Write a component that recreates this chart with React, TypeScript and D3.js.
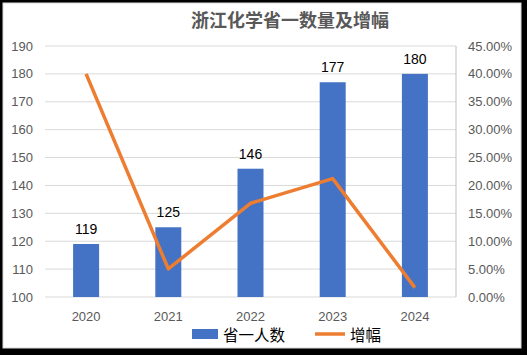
import React from "react";
import * as d3 from "d3";

const categories = ["2020", "2021", "2022", "2023", "2024"];
const counts = [119, 125, 146, 177, 180];
const growth = [0.40, 0.0504, 0.168, 0.2123, 0.0169];
const leftTicks = [100, 110, 120, 130, 140, 150, 160, 170, 180, 190];
const rightTicks = [0, 0.05, 0.1, 0.15, 0.2, 0.25, 0.3, 0.35, 0.4, 0.45];
const title = "浙江化学省一数量及增幅";
const seriesNames = ["省一人数", "增幅"];

export default function App() {
  const W = 527, H = 355;
  const left = 45, right = 456, top = 46, bottom = 297;
  const x = d3.scaleBand().domain(categories).range([left, right]);
  const yL = d3.scaleLinear().domain([100, 190]).range([bottom, top]);
  const yR = d3.scaleLinear().domain([0, 0.45]).range([bottom, top]);
  const barW = 26;
  const cx = (c: string) => (x(c) as number) + x.bandwidth() / 2;
  const line = d3.line<number>().x((_, i) => cx(categories[i])).y((d) => yR(d));
  const pct = d3.format(".2%");
  const font = "'Liberation Sans', 'DejaVu Sans', sans-serif";
  const cjk = "'Noto Sans CJK SC', sans-serif";
  return (
    <div style={{ position: "fixed", left: 0, top: 0, width: W, height: H }}>
      <svg width={W} height={H} style={{ display: "block" }}>
        <rect x={0} y={0} width={W} height={H} fill="#000" />
        <rect x={3} y={3} width={518} height={345} fill="#fff" stroke="#d9d9d9" strokeWidth={1} />
        <text x={290} y={27} textAnchor="middle" fontFamily={cjk} fontWeight="bold" fontSize={18} fill="#595959">
          {title}
        </text>
        {leftTicks.map((t) => (
          <g key={t}>
            <line x1={left} x2={right} y1={yL(t)} y2={yL(t)} stroke="#d9d9d9" strokeWidth={1} />
            <text x={33} y={yL(t) + 4.5} textAnchor="end" fontFamily={font} fontSize={13} fill="#595959">{t}</text>
          </g>
        ))}
        {rightTicks.map((t) => (
          <text key={t} x={468} y={yR(t) + 4.5} textAnchor="start" fontFamily={font} fontSize={13} fill="#595959">{pct(t)}</text>
        ))}
        <line x1={right} x2={right} y1={top} y2={bottom} stroke="#bfbfbf" strokeWidth={1} />
        {categories.map((c, i) => (
          <g key={c}>
            <rect x={cx(c) - barW / 2} y={yL(counts[i])} width={barW} height={bottom - yL(counts[i])} fill="#4472c4" />
            <text x={cx(c)} y={yL(counts[i]) - 10} textAnchor="middle" fontFamily={font} fontSize={14} fill="#000">{counts[i]}</text>
            <text x={cx(c)} y={320.5} textAnchor="middle" fontFamily={font} fontSize={13} fill="#595959">{c}</text>
          </g>
        ))}
        <path d={line(growth) as string} fill="none" stroke="#ed7d31" strokeWidth={3.5} strokeLinejoin="round" />
        <rect x={192} y={329} width={26} height={10} fill="#4472c4" />
        <text x={223} y={341} fontFamily={cjk} fontSize={15.5} fill="#000">{seriesNames[0]}</text>
        <line x1={315} x2={345} y1={334} y2={334} stroke="#ed7d31" strokeWidth={3.5} />
        <text x={350} y={341} fontFamily={cjk} fontSize={15.5} fill="#000">{seriesNames[1]}</text>
      </svg>
    </div>
  );
}
